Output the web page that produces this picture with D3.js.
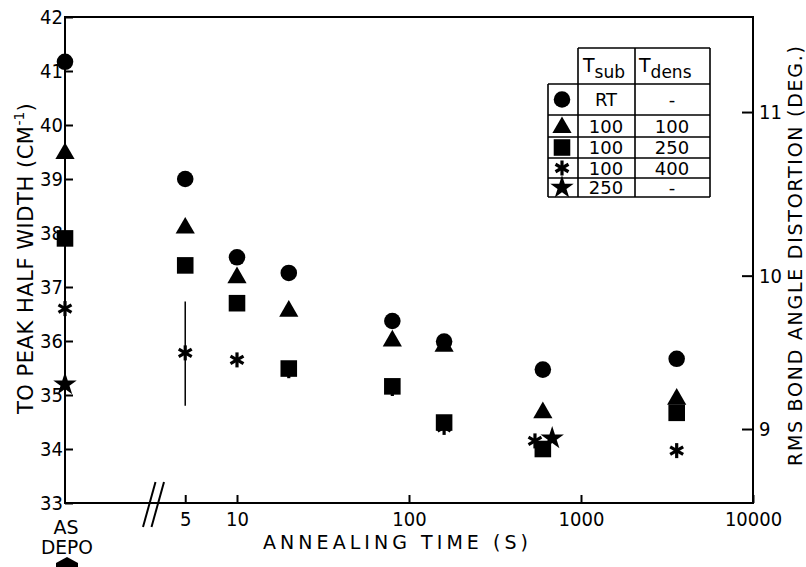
<!DOCTYPE html>
<html>
<head>
<meta charset="utf-8">
<script src="https://cdn.jsdelivr.net/npm/d3@7"></script>
<style>
  body { margin: 0; background: #fff; }
  text { font-family: "DejaVu Sans", "Liberation Sans", sans-serif; fill: #000; }
  .num { font-stretch: condensed; }
</style>
</head>
<body>
<div id="chart"></div>
<script>
// temps de recuit (0 = "as deposited")
const times = [0, 5, 10, 20, 80, 160, 600, 3600]
const circleVals = [41.17, 39.0, 37.55, 37.26, 36.37, 35.99, 35.47, 35.67]
const triangleVals = [39.5, 38.12, 37.2, 36.58, 36.03, 35.93, 34.7, 34.95]
const squareVals = [37.9, 37.4, 36.7, 35.49, 35.16, 34.49, 34.0, 34.67]
const asteriskTimes = [0, 5, 10, 20, 80, 160, 540, 3600]
const asteriskVals = [36.6, 35.78, 35.65, 35.45, 35.12, 34.4, 34.15, 33.97]
const starTimes = [0, 680]
const starVals = [35.2, 34.2]
const errorBar = {t: 5, low: 34.8, high: 36.73}

const yTicks = [33, 34, 35, 36, 37, 38, 39, 40, 41, 42]
const xTicks = [5, 10, 100, 1000, 10000]
const xTickLabels = ["5", "10", "100", "1000", "10000"]
const rmsTicks = [9, 10, 11]
// equivalents en largeur de pic des graduations de droite
const rmsAsWidth = [34.37, 37.21, 40.24]

const legendSymbols = ["circle", "triangle", "square", "asterisk", "star"]
const legendTsub = ["RT", "100", "100", "100", "250"]
const legendTdens = ["-", "100", "250", "400", "-"]

const W = 806, H = 567
const mLeft = 65, mRight = 753, mTop = 17, mBottom = 503

const svg = d3.select("#chart").append("svg")
   .attr("width", W).attr("height", H)

const y = d3.scaleLinear().domain([33, 42]).range([mBottom, mTop])
const x = d3.scaleLog().domain([10, 10000]).range([237, mRight])
const yRight = d3.scaleLinear().domain(rmsTicks).range(rmsAsWidth.map(v => y(v)))
const xPos = t => t === 0 ? mLeft : x(t)

// cadre
svg.append("path")
   .attr("d", `M${mLeft},${mTop} H${mRight} V${mBottom} H${mLeft} Z`)
   .attr("fill", "none").attr("stroke", "#000").attr("stroke-width", 2)

// axe gauche
const yAxis = d3.axisLeft(y).tickValues(yTicks).tickSize(-8).tickFormat(d3.format("d"))
const gy = svg.append("g").attr("transform", `translate(${mLeft},0)`).call(yAxis)
gy.select(".domain").remove()
gy.selectAll("line").attr("stroke-width", 2)
gy.selectAll("text").attr("class", "num").attr("font-size", 20).attr("x", -2)

// axe droit
const rAxis = d3.axisRight(yRight).tickValues(rmsTicks).tickSize(-11).tickFormat(d3.format("d"))
const gr = svg.append("g").attr("transform", `translate(${mRight},0)`).call(rAxis)
gr.select(".domain").remove()
gr.selectAll("line").attr("stroke-width", 2)
gr.selectAll("text").attr("class", "num").attr("font-size", 20).attr("x", 6)

// axe du bas
const xAxis = d3.axisBottom(x).tickValues(xTicks).tickSize(-8).tickFormat((d, i) => xTickLabels[i])
const gx = svg.append("g").attr("transform", `translate(0,${mBottom})`).call(xAxis)
gx.select(".domain").remove()
gx.selectAll("line").attr("stroke-width", 2)
gx.selectAll("text").attr("class", "num").attr("font-size", 20).attr("y", 9)

// coupure de l'axe
svg.append("line").attr("x1", mLeft).attr("x2", mRight).attr("y1", mBottom).attr("y2", mBottom)
   .attr("stroke", "#000").attr("stroke-width", 2)
for (let dx of [0, 8.5]) {
   svg.append("line")
      .attr("x1", 143 + dx).attr("y1", 527).attr("x2", 155.5 + dx).attr("y2", 482)
      .attr("stroke", "#000").attr("stroke-width", 2)
}

// AS DEPO
svg.append("text").attr("x", 66).attr("y", 534).attr("text-anchor", "middle").attr("font-size", 19).text("AS")
svg.append("text").attr("x", 67).attr("y", 554).attr("text-anchor", "middle").attr("font-size", 19)
   .attr("textLength", 52).attr("lengthAdjust", "spacingAndGlyphs").text("DEPO")
svg.append("path").attr("d", "M56,567 V563 L67,557 L78,563 V567 Z").attr("fill", "#000")

// titres
svg.append("text").attr("x", 263).attr("y", 549).attr("font-size", 19)
   .attr("textLength", 265).attr("lengthAdjust", "spacing").text("ANNEALING TIME (S)")

const lt = svg.append("text").attr("transform", "translate(33,414) rotate(-90)").attr("font-size", 21)
lt.append("tspan").attr("textLength", 288).attr("lengthAdjust", "spacing").text("TO PEAK HALF WIDTH (CM")
lt.append("tspan").attr("dy", -9).attr("font-size", 14).text("-1")
lt.append("tspan").attr("dy", 9).text(")")

svg.append("text").attr("transform", "translate(802,466) rotate(-90)").attr("font-size", 19)
   .attr("textLength", 420).attr("lengthAdjust", "spacing").text("RMS BOND ANGLE DISTORTION (DEG.)")

// symboles
function drawSymbol(g, kind, cx, cy) {
   if (kind === "asterisk") {
      for (let a of [90, 30, 150]) {
         const r = a * Math.PI / 180, l = 7.5
         g.append("line")
            .attr("x1", cx - Math.cos(r) * l).attr("y1", cy - Math.sin(r) * l)
            .attr("x2", cx + Math.cos(r) * l).attr("y2", cy + Math.sin(r) * l)
            .attr("stroke", "#000").attr("stroke-width", 3.2)
      }
      return
   }
   const types = {circle: [d3.symbolCircle, 215], triangle: [d3.symbolTriangle, 160], square: [d3.symbolSquare, 275], star: [d3.symbolStar, 170]}
   const [type, size] = types[kind]
   g.append("path")
      .attr("d", d3.symbol().type(type).size(size)())
      .attr("transform", `translate(${cx},${cy + (kind === "triangle" ? 1.5 : 0)})`)
      .attr("fill", "#000")
}

const marks = svg.append("g")
// barre d'erreur
marks.append("line")
   .attr("x1", xPos(errorBar.t)).attr("x2", xPos(errorBar.t))
   .attr("y1", y(errorBar.low)).attr("y2", y(errorBar.high))
   .attr("stroke", "#000").attr("stroke-width", 1.5)

starTimes.forEach((t, i) => drawSymbol(marks, "star", xPos(t), y(starVals[i])))
asteriskTimes.forEach((t, i) => drawSymbol(marks, "asterisk", xPos(t), y(asteriskVals[i])))
times.forEach((t, i) => drawSymbol(marks, "square", xPos(t), y(squareVals[i])))
times.forEach((t, i) => drawSymbol(marks, "triangle", xPos(t), y(triangleVals[i])))
times.forEach((t, i) => drawSymbol(marks, "circle", xPos(t), y(circleVals[i])))

// légende (tableau)
const lg = svg.append("g")
const colX = [548, 578, 635, 710]
const rowY = [48, 84, 115, 137, 158, 178, 197]
const line = (x1, y1, x2, y2) => lg.append("line").attr("x1", x1).attr("y1", y1).attr("x2", x2).attr("y2", y2)
   .attr("stroke", "#000").attr("stroke-width", 1.6)
line(colX[1], rowY[0], colX[3], rowY[0])
line(colX[1], rowY[0], colX[1], rowY[6])
line(colX[2], rowY[0], colX[2], rowY[6])
line(colX[3], rowY[0], colX[3], rowY[6])
line(colX[0], rowY[1], colX[0], rowY[6])
for (let j = 1; j < rowY.length; j++) line(colX[0], rowY[j], colX[3], rowY[j])

const h1 = lg.append("text").attr("x", 583).attr("y", 72).attr("font-size", 19)
h1.append("tspan").text("T")
h1.append("tspan").attr("dy", 6).attr("font-size", 17).text("sub")
const h2 = lg.append("text").attr("x", 639).attr("y", 72).attr("font-size", 19)
h2.append("tspan").text("T")
h2.append("tspan").attr("dy", 6).attr("font-size", 17).text("dens")

legendSymbols.forEach((s, i) => {
   const cy = (rowY[i + 1] + rowY[i + 2]) / 2
   drawSymbol(lg, s, 562, cy)
   lg.append("text").attr("x", 606).attr("y", cy + 6.5).attr("text-anchor", "middle").attr("font-size", 18).text(legendTsub[i])
   lg.append("text").attr("x", 672).attr("y", cy + 6.5).attr("text-anchor", "middle").attr("font-size", 18).text(legendTdens[i])
})
</script>
</body>
</html>
